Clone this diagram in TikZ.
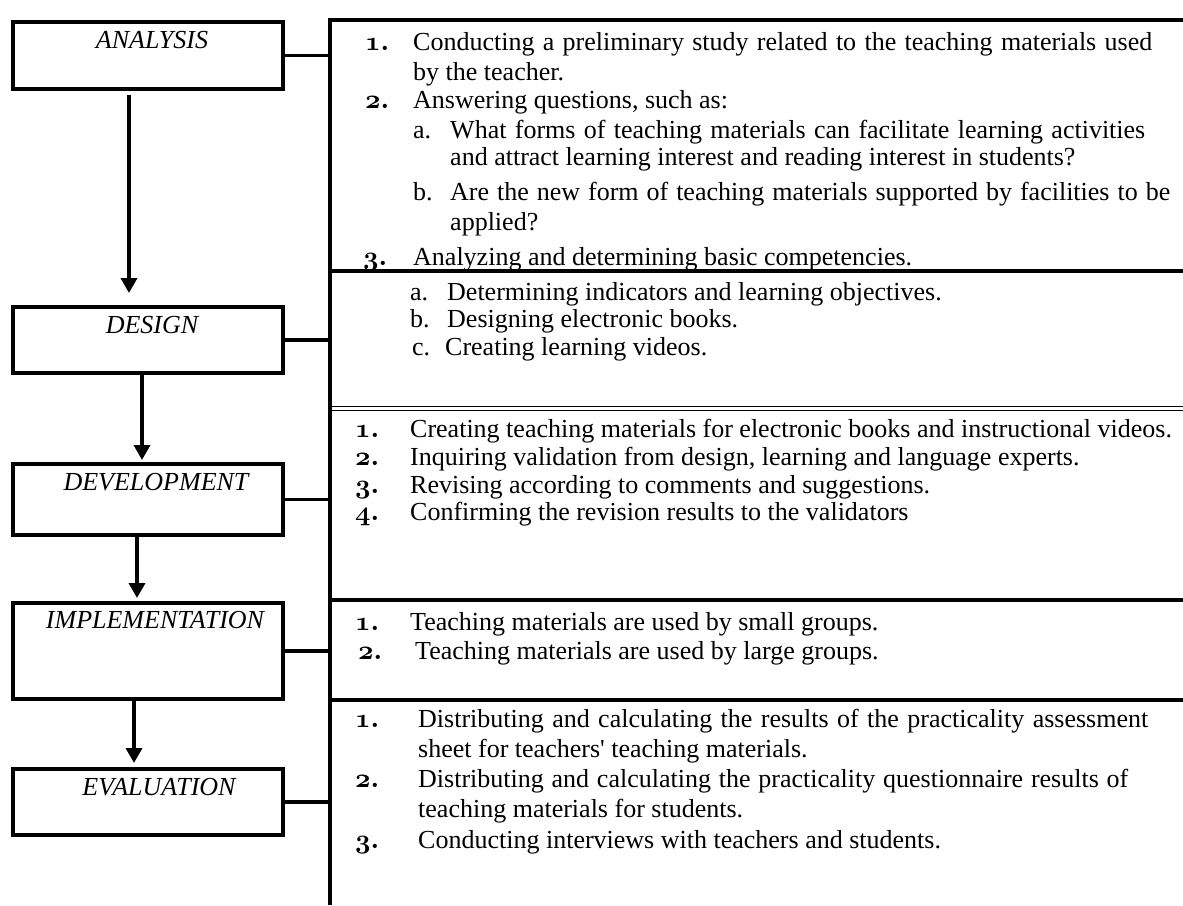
\RequirePackage{fix-cm}
\documentclass[tikz,border=0pt]{standalone}
\usepackage{fontspec}
\setmainfont{Liberation Serif}
\usetikzlibrary{arrows.meta}
% old-style list numbers
\newcommand\osn[1]{{\fontsize{27}{30}\selectfont\boldmath$\mathnormal{#1}$}}
% a justified line of fixed width
\newcommand\jline[2]{\makebox[#1pt][s]{#2}}

\begin{document}
\begin{tikzpicture}[x=1pt,y=-1pt,
  stage/.style={draw, line width=4pt, minimum width=270pt, inner sep=0pt},
  stagelabel/.style={inner sep=0pt, font=\fontsize{26}{30}\selectfont\itshape},
  item/.style={anchor=base west, inner sep=0pt, font=\fontsize{26}{30}\selectfont},
  flow/.style={line width=3.5pt, -{Triangle[length=15pt,width=16pt]}},
  link/.style={line width=3.5pt},
  rule/.style={line width=4pt},
  thinrule/.style={line width=1.8pt}]
\useasboundingbox (0,0) rectangle (1183,905);

% stage boxes
\node[stage, minimum height=67pt] (ana) at (148,55.5) {};
\node[stage, minimum height=66pt] (des) at (148,340) {};
\node[stage, minimum height=71pt] (dev) at (148,499.5) {};
\node[stage, minimum height=96pt] (imp) at (148,651) {};
\node[stage, minimum height=66pt] (eva) at (148,802) {};

\node[stagelabel] (anaL) at (152,40) {ANALYSIS};
\node[stagelabel] (desL) at (152,325) {DESIGN};
\node[stagelabel] (devL) at (156,482) {DEVELOPMENT};
\node[stagelabel] (impL) at (155,620) {IMPLEMENTATION};
\node[stagelabel] (evaL) at (159,787) {EVALUATION};

% arrows between the stages
\coordinate (c1) at (129,0);
\coordinate (c2) at (142,0);
\coordinate (c3) at (137,0);
\coordinate (c4) at (134,0);
\draw[flow, shorten <=4pt, shorten >=12pt] (ana.south -| c1) -- (des.north -| c1);
\draw[flow, shorten >=2pt] (des.south -| c2) -- (dev.north -| c2);
\draw[flow, shorten >=3pt] (dev.south -| c3) -- (imp.north -| c3);
\draw[flow, shorten >=4pt] (imp.south -| c4) -- (eva.north -| c4);

% spine and table rules
\coordinate (spinetop) at (330,18);
\coordinate (spinebot) at (330,905);
\coordinate (toprowL) at (328,20);
\coordinate (toprowR) at (1183,20);
\draw[rule] (spinetop) -- (spinebot);
\draw[rule] (toprowL) -- (toprowR);
\coordinate (r1) at (330,271);
\coordinate (r2a) at (330,406.5);
\coordinate (r2b) at (330,410.5);
\coordinate (r3) at (330,600);
\coordinate (r4) at (330,700);
\coordinate (edge) at (1183,0);
\draw[rule] (r1) -- (r1 -| edge);
\draw[thinrule] (r2a) -- (r2a -| edge);
\draw[thinrule] (r2b) -- (r2b -| edge);
\draw[link] (r3) -- (r3 -| edge);
\draw[link] (r4) -- (r4 -| edge);

% stage to table connectors
\draw[link] (ana.east) -- (ana.east -| spinetop);
\draw[link] (des.east) -- (des.east -| spinetop);
\draw[link] (dev.east) -- (dev.east -| spinetop);
\draw[link] (imp.east) -- (imp.east -| spinetop);
\draw[link] (eva.east) -- (eva.east -| spinetop);

% analysis
\node[item] (an1) at (365,50) {\osn{1.}};
\node[item] (at1) at (413,50) {\jline{739}{Conducting a preliminary study related to the teaching materials used}};
\node[item] (at1b) at (413,80) {by the teacher.};
\node[item] (an2) at (365,108) {\osn{2.}};
\node[item] (at2) at (413,108) {Answering questions, such as:};
\node[item] (aqa) at (413,138) {a.};
\node[item] (aqat) at (450,138) {\jline{695}{What forms of teaching materials can facilitate learning activities}};
\node[item] (aqat2) at (450,165) {and attract learning interest and reading interest in students?};
\node[item] (aqb) at (413,200) {b.};
\node[item] (aqbt) at (450,200) {\jline{720}{Are the new form of teaching materials supported by facilities to be}};
\node[item] (aqbt2) at (450,230) {applied?};
\node[item] (an3) at (363,265) {\osn{3.}};
\node[item] (at3) at (413,265) {Analyzing and determining basic competencies.};

% design
\node[item] (dla) at (410,300) {a.};
\node[item] (dta) at (447,300) {Determining indicators and learning objectives.};
\node[item] (dlb) at (410,327) {b.};
\node[item] (dtb) at (447,327) {Designing electronic books.};
\node[item] (dlc) at (412,355) {c.};
\node[item] (dtc) at (445,355) {Creating learning videos.};

% development
\node[item] (vn1) at (355,437) {\osn{1.}};
\node[item] (vt1) at (410,437) {Creating teaching materials for electronic books and instructional videos.};
\node[item] (vn2) at (355,465) {\osn{2.}};
\node[item] (vt2) at (410,465) {Inquiring validation from design, learning and language experts.};
\node[item] (vn3) at (355,493) {\osn{3.}};
\node[item] (vt3) at (410,493) {Revising according to comments and suggestions.};
\node[item] (vn4) at (355,520) {\osn{4.}};
\node[item] (vt4) at (410,520) {Confirming the revision results to the validators};

% implementation
\node[item] (in1) at (355,630) {\osn{1.}};
\node[item] (it1) at (410,630) {Teaching materials are used by small groups.};
\node[item] (in2) at (358,659) {\osn{2.}};
\node[item] (it2) at (415,659) {Teaching materials are used by large groups.};

% evaluation
\node[item] (en1) at (355,727) {\osn{1.}};
\node[item] (et1) at (418,727) {\jline{730}{Distributing and calculating the results of the practicality assessment}};
\node[item] (et1b) at (418,757) {sheet for teachers\textquotesingle\ teaching materials.};
\node[item] (en2) at (355,787) {\osn{2.}};
\node[item] (et2) at (418,787) {\jline{710}{Distributing and calculating the practicality questionnaire results of}};
\node[item] (et2b) at (418,817) {teaching materials for students.};
\node[item] (en3) at (355,848) {\osn{3.}};
\node[item] (et3) at (418,848) {Conducting interviews with teachers and students.};
\end{tikzpicture}
\end{document}
